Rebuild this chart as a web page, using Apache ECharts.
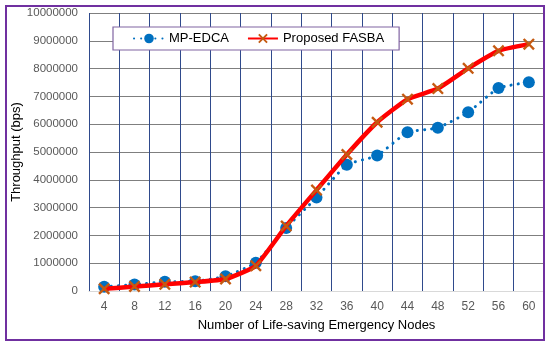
<!DOCTYPE html>
<html><head><meta charset="utf-8">
<script src="https://cdn.jsdelivr.net/npm/echarts@6/dist/echarts.min.js"></script>
<style>html,body{margin:0;padding:0;background:#fff}#c{width:550px;height:347px}</style>
</head><body><div id="c"></div>
<script>
const categories = ['4','8','12','16','20','24','28','32','36','40','44','48','52','56','60'];
const mpEdca = [150000,230000,330000,350000,530000,1020000,2270000,3360000,4540000,4870000,5710000,5870000,6430000,7300000,7510000];
const fasba = [80000,160000,240000,320000,430000,910000,2340000,3630000,4910000,6070000,6900000,7280000,8010000,8640000,8880000];
const yTicks = [0,1000000,2000000,3000000,4000000,5000000,6000000,7000000,8000000,9000000,10000000];

const xSym = 'path://M0,1.4L1.4,0L5,3.6L8.6,0L10,1.4L6.4,5L10,8.6L8.6,10L5,6.4L1.4,10L0,8.6L3.6,5Z';
const chart = echarts.init(document.getElementById('c'));
chart.setOption({
  animation:false,
  textStyle:{fontFamily:'Liberation Sans, Arial, sans-serif'},
  graphic:[{type:'rect',shape:{x:6,y:6,width:538,height:334},style:{fill:'none',stroke:'#7030A0',lineWidth:2},z:100}],
  legend:{
    left:113, top:27, orient:'horizontal',
    backgroundColor:'#fff', borderColor:'#8064A2', borderWidth:1.2, padding:[5,15,5,20],
    itemGap:18, itemWidth:30, itemHeight:12,
    textStyle:{fontSize:13,color:'#000',fontFamily:'Liberation Sans, Arial, sans-serif'},
    data:[{name:'MP-EDCA'},{name:'Proposed FASBA'}]
  },
  grid:{left:89, right:6, top:13, bottom:56, outerBoundsMode:'none', containLabel:false},
  xAxis:{
    type:'category', data:categories, boundaryGap:true,
    name:'Number of Life-saving Emergency Nodes', nameLocation:'middle', nameGap:28,
    nameTextStyle:{fontSize:13,color:'#000'}, nameMoveOverlap:false,
    axisLine:{show:true,lineStyle:{color:'#D9D9D9'}},
    axisTick:{show:false},
    axisLabel:{color:'#595959',fontSize:12,margin:10},
    splitLine:{show:true,lineStyle:{color:'#2F4A8C',width:1}}
  },
  yAxis:{
    type:'value', min:0, max:10000000, interval:1000000,
    name:'Throughput (bps)', nameLocation:'middle', nameGap:66, nameRotate:90,
    nameTextStyle:{fontSize:13,color:'#000'}, nameMoveOverlap:false,
    axisLine:{show:false}, axisTick:{show:false},
    axisLabel:{color:'#595959',fontSize:11.5,margin:11,formatter:v=>yTicks.includes(v)?String(v):''},
    splitLine:{show:true,lineStyle:{color:'#7F7F7F',width:1}}
  },
  series:[
    {name:'MP-EDCA', type:'line', data:mpEdca, smooth:0.15,
     lineStyle:{color:'#0070C0',width:3,type:[0.1,7],cap:'round'},
     symbol:'circle', symbolSize:12, itemStyle:{color:'#0070C0'}, z:2},
    {name:'Proposed FASBA', type:'line', data:fasba, smooth:0.15,
     lineStyle:{color:'#FF0000',width:4.5},
     symbol:xSym, symbolSize:12, itemStyle:{color:'#C55A11'}, z:3}
  ]
});
</script></body></html>
